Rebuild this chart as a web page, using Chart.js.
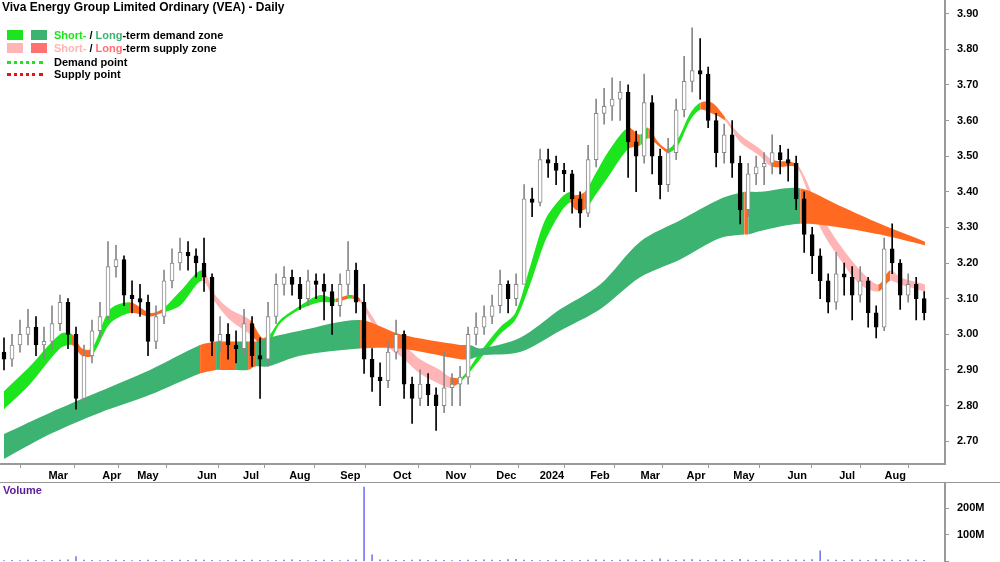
<!DOCTYPE html>
<html>
<head>
<meta charset="utf-8">
<script src="https://cdn.jsdelivr.net/npm/chart.js@4.4.1/dist/chart.umd.min.js"></script>
<style>
  body { margin: 0; background: #fff; font-family: "Liberation Sans", Arial, sans-serif; }
  #wrap { position: relative; width: 1000px; height: 562px; overflow: hidden; }
  #price { position: absolute; left: 0; top: -14px; }
  #vol { position: absolute; left: 0; top: 469px; }
  #sep { position: absolute; left: 0; top: 482px; width: 1000px; height: 1px; background: #999; }
  .txt { position: absolute; font-weight: bold; font-size: 11px; color: #000; white-space: nowrap; }
  .sw { position: absolute; width: 16px; height: 10px; }
  .dot { position: absolute; width: 36px; height: 0; border-top: 3px dotted; }
</style>
</head>
<body>
<div id="wrap">
  <canvas id="price" width="1000" height="496"></canvas>
  <div id="sep"></div>
  <canvas id="vol" width="1000" height="107"></canvas>
  <div class="txt" style="left:2px;top:0px;font-size:12px">Viva Energy Group Limited Ordinary (VEA) - Daily</div>
  <div class="sw" style="left:7px;top:30px;background:#1de51d"></div>
  <div class="sw" style="left:31px;top:30px;background:#3cb371"></div>
  <div class="txt" style="left:54px;top:29px"><span style="color:#1de51d">Short-</span> / <span style="color:#3cb371">Long</span>-term demand zone</div>
  <div class="sw" style="left:7px;top:43px;background:#ffb5b5"></div>
  <div class="sw" style="left:31px;top:43px;background:#ff7070"></div>
  <div class="txt" style="left:54px;top:42px"><span style="color:#ffb5b5">Short-</span> / <span style="color:#ff7070">Long</span>-term supply zone</div>
  <div class="dot" style="left:7px;top:61px;border-color:#1de51d"></div>
  <div class="txt" style="left:54px;top:56px">Demand point</div>
  <div class="dot" style="left:7px;top:73px;border-color:#ee1111"></div>
  <div class="txt" style="left:54px;top:68px">Supply point</div>
  <div class="txt" style="left:3px;top:484px;color:#5a1a9a">Volume</div>
</div>
<script>
// one bar per ~3 trading days
const closes = [2.93,2.97,3.00,3.02,2.97,2.98,3.03,3.09,3.00,2.82, 2.94,3.01,3.05,3.19,3.21,3.11,3.10,3.09,2.98,3.05,
  3.15,3.20,3.23,3.22,3.20,3.16,2.98,3.00,2.97,2.96, 3.03,2.94,2.93,3.05,3.14,3.16,3.14,3.10,3.15,3.14,
  3.12,3.08,3.14,3.18,3.09,2.93,2.88,2.87,2.95,3.00, 2.86,2.82,2.86,2.83,2.80,2.85,2.86,2.88,3.00,3.02,
  3.05,3.08,3.14,3.10,3.14,3.38,3.37,3.49,3.48,3.46, 3.45,3.38,3.34,3.49,3.62,3.64,3.66,3.68,3.54,3.50,
  3.65,3.50,3.42,3.51,3.63,3.71,3.74,3.73,3.60,3.51, 3.56,3.48,3.35,3.45,3.47,3.48,3.51,3.49,3.48,3.38,
  3.28,3.22,3.15,3.09,3.17,3.16,3.11,3.15,3.06,3.02, 3.24,3.20,3.11,3.14,3.10,3.06];
const highs = [2.99,3.00,3.04,3.07,3.05,3.02,3.08,3.11,3.10,3.02, 2.97,3.04,3.09,3.26,3.25,3.22,3.15,3.14,3.11,3.08,
  3.18,3.24,3.27,3.26,3.24,3.27,3.17,3.05,3.03,3.01, 3.07,3.05,2.99,3.09,3.17,3.19,3.18,3.16,3.18,3.17,
  3.17,3.14,3.17,3.26,3.20,3.14,2.96,2.92,2.98,3.04, 3.01,2.88,2.90,2.89,2.85,2.95,2.89,2.91,3.02,3.06,
  3.08,3.11,3.18,3.15,3.17,3.42,3.41,3.52,3.52,3.50, 3.48,3.46,3.40,3.53,3.66,3.69,3.72,3.71,3.70,3.57,
  3.73,3.67,3.52,3.55,3.66,3.78,3.86,3.83,3.75,3.62, 3.59,3.60,3.50,3.48,3.50,3.51,3.56,3.53,3.52,3.50,
  3.40,3.30,3.24,3.17,3.23,3.20,3.19,3.19,3.16,3.08, 3.27,3.31,3.21,3.17,3.16,3.12];
const lows = [2.90,2.91,2.95,2.97,2.94,2.93,2.96,3.01,2.96,2.79, 2.81,2.92,2.99,3.04,3.16,3.08,3.06,3.05,2.94,2.96,
  3.03,3.13,3.18,3.18,3.16,3.12,2.94,2.95,2.93,2.92, 2.94,2.91,2.82,2.91,3.03,3.11,3.11,3.07,3.08,3.10,
  3.04,3.00,3.05,3.11,3.06,2.89,2.84,2.80,2.85,2.93, 2.82,2.75,2.80,2.80,2.73,2.78,2.80,2.80,2.86,2.97,
  3.00,3.03,3.06,3.06,3.08,3.23,3.33,3.36,3.44,3.42, 3.40,3.34,3.30,3.33,3.47,3.59,3.60,3.60,3.44,3.40,
  3.48,3.45,3.38,3.40,3.49,3.61,3.68,3.66,3.58,3.47, 3.48,3.44,3.31,3.33,3.42,3.42,3.45,3.45,3.43,3.35,
  3.23,3.17,3.10,3.06,3.07,3.11,3.04,3.09,3.02,2.99, 3.01,3.17,3.07,3.09,3.04,3.04];
const firstOpen = 2.95;
// volume in millions
const volumes = [3,4,3,5,4,3,4,5,6,18, 5,4,3,4,5,4,3,4,5,4, 3,4,5,4,6,5,4,3,4,5,
  4,5,4,3,4,5,6,4,3,4, 5,4,3,5,6,280,25,6,5,4, 4,5,6,4,5,4,3,4,5,4, 6,5,4,7,8,5,4,3,4,5,
  4,3,4,5,6,5,4,5,6,5, 4,5,10,5,4,6,7,5,4,6, 5,4,8,5,4,5,6,4,5,6, 5,7,40,6,5,4,6,5,4,7, 6,5,4,6,5,4];

// zone knots: bar index, upper, lower, state of segment starting at the knot
const shortIdx = [0,3.25,7,8.5,9.75,11,13.25,15.75,18.25,19.75,22,24.75,26.4,28.25,30.75,32.25,33.25,34.5,37,39.5,41.4,43,43.5,44.5,45.75,47.6,49.5,52,54.5,55.75,57.25,59.5,62,63.9,65.75,67.6,69.5,70.75,71.4,72.6,73.9,75.75,78,79.5,80.5,81.75,83,84.25,85.75,87,88.5,90.1,92,94.5,96,98.9,100.1,102,104.5,107,109.25,110.75,112,115.1];
const shortHi = [2.84,2.91,3.00,3.00,2.96,2.96,3.07,3.09,3.06,3.07,3.12,3.18,3.11,3.07,3.04,2.99,3.00,3.04,3.08,3.11,3.10,3.11,3.11,3.10,3.06,3.00,2.98,2.93,2.90,2.88,2.88,2.95,3.02,3.06,3.19,3.32,3.38,3.40,3.39,3.40,3.45,3.52,3.58,3.56,3.58,3.54,3.52,3.55,3.62,3.65,3.65,3.61,3.56,3.52,3.49,3.48,3.44,3.34,3.25,3.18,3.14,3.18,3.16,3.14];
const shortLo = [2.79,2.86,2.96,2.97,2.94,2.94,3.03,3.06,3.05,3.06,3.08,3.15,3.09,3.04,3.00,2.97,2.98,3.03,3.07,3.09,3.09,3.10,3.10,3.09,3.04,2.97,2.94,2.89,2.86,2.85,2.87,2.93,3.00,3.04,3.14,3.26,3.34,3.37,3.35,3.35,3.39,3.45,3.52,3.53,3.55,3.53,3.51,3.53,3.60,3.63,3.62,3.60,3.54,3.50,3.47,3.47,3.42,3.30,3.21,3.14,3.12,3.15,3.14,3.12];
const shortState = ['d','d','d','o','o','d','d','o','o','d','d','s','s','s','o','o','d','d','d','d','o','d','o','s','s','s','s','s','s','o','d','d','d','d','d','d','d','o','o','d','d','d','o','d','o','o','d','d','d','o','o','s','s','s','o','s','s','s','s','s','o','s','s','s'];

const longIdx = [0,5.75,12,18.25,24.5,26.5,27,29,30.5,31.5,33,37,44.5,49.5,57,58.25,59.5,64.5,69.5,74.5,79.5,84.5,89.5,92.5,93,94.5,99.5,104.5,109.5,115.1];
const longHi = [2.72,2.78,2.84,2.90,2.97,2.98,2.98,2.98,2.98,2.98,2.99,3.01,3.04,3.00,2.97,2.97,2.96,2.99,3.07,3.14,3.26,3.32,3.38,3.40,3.40,3.40,3.41,3.36,3.31,3.26];
const longLo = [2.65,2.72,2.78,2.83,2.89,2.90,2.90,2.90,2.90,2.91,2.91,2.94,2.96,2.96,2.93,2.93,2.94,2.95,3.01,3.07,3.16,3.21,3.27,3.28,3.28,3.29,3.31,3.30,3.28,3.25];
const longState = ['d','d','d','d','o','d','o','d','o','d','d','d','o','o','o','d','d','d','d','d','d','d','d','o','d','d','o','o','o','o'];

const priceTicks = [2.70,2.80,2.90,3.00,3.10,3.20,3.30,3.40,3.50,3.60,3.70,3.80,3.90];
const monthLabels = ['Mar','Apr','May','Jun','Jul','Aug','Sep','Oct','Nov','Dec','2024','Feb','Mar','Apr','May','Jun','Jul','Aug'];
const monthIdx = [5.4,12.1,16.6,24,29.5,35.6,41.9,48.4,55.1,61.4,67.1,73.1,79.4,85.1,91.1,97.75,104,110];
const volTicks = [0,100,200];

const shortColors = {d: '#1de51d', s: '#ffb5b5', o: '#ff6a20'};
const longColors = {d: '#3cb371', o: '#ff6a20'};

const opens = closes.map((c, i) => i === 0 ? firstOpen : closes[i - 1]);
const wickData = closes.map((c, i) => ({x: i, y: [lows[i], highs[i]]}));
const bodyData = closes.map((c, i) => ({x: i, y: [opens[i], c]}));
const isUp = i => closes[i] >= opens[i];

function zone(idx, hi, lo, state, colors) {
  return [
    {
      type: 'line', order: 10,
      data: idx.map((x, i) => ({x, y: hi[i]})),
      borderWidth: 0, pointRadius: 0, fill: '+1', tension: 0.3,
      segment: {backgroundColor: ctx => colors[state[ctx.p0DataIndex]]}
    },
    {
      type: 'line', order: 10,
      data: idx.map((x, i) => ({x, y: lo[i]})),
      borderWidth: 0, pointRadius: 0, fill: false, tension: 0.3
    }
  ];
}

const xMin = -0.5, xMax = 117.6;
const tickFont = {family: 'Liberation Sans', size: 11, weight: 'bold'};

new Chart(document.getElementById('price'), {
  type: 'bar',
  data: {
    datasets: [
      ...zone(longIdx, longHi, longLo, longState, longColors),
      ...zone(shortIdx, shortHi, shortLo, shortState, shortColors),
      {
        type: 'bar', order: 2, grouped: false, data: wickData,
        barThickness: 1,
        backgroundColor: wickData.map((d, i) => isUp(i) ? '#888' : '#000')
      },
      {
        type: 'bar', order: 1, grouped: false, data: bodyData,
        barThickness: 4, borderWidth: 1, borderSkipped: false, minBarLength: 1,
        backgroundColor: bodyData.map((d, i) => isUp(i) ? '#fff' : '#000'),
        borderColor: bodyData.map((d, i) => isUp(i) ? '#888' : '#000')
      }
    ]
  },
  options: {
    responsive: false, animation: false,
    layout: {padding: 0},
    plugins: {legend: {display: false}, tooltip: {enabled: false}},
    scales: {
      x: {
        type: 'linear', min: xMin, max: xMax, offset: false,
        afterBuildTicks: s => { s.ticks = monthIdx.map(v => ({value: v})); },
        afterFit: s => { s.height = 18; },
        ticks: {
          autoSkip: false, maxRotation: 0, labelOffset: 11, padding: 1,
          color: '#000', font: tickFont,
          callback: (v, i) => monthLabels[i]
        },
        grid: {drawOnChartArea: false, tickLength: 4, color: '#999'},
        border: {color: '#999', width: 2}
      },
      y: {
        position: 'right', min: 2.636, max: 3.9365,
        afterBuildTicks: s => { s.ticks = priceTicks.map(v => ({value: v})); },
        afterFit: s => { s.width = 55; },
        ticks: {color: '#000', padding: 8, font: tickFont, callback: v => v.toFixed(2)},
        grid: {drawOnChartArea: false, tickLength: 4, color: '#999'},
        border: {color: '#999', width: 2}
      }
    }
  }
});

new Chart(document.getElementById('vol'), {
  type: 'bar',
  data: {
    datasets: [{
      data: volumes.map((v, i) => ({x: i, y: v})),
      barThickness: 1, backgroundColor: '#7b7bf0'
    }]
  },
  options: {
    responsive: false, animation: false,
    layout: {padding: 0},
    plugins: {legend: {display: false}, tooltip: {enabled: false}},
    scales: {
      x: {type: 'linear', min: xMin, max: xMax, offset: false, display: false},
      y: {
        position: 'right', min: 0, max: 293,
        afterBuildTicks: s => { s.ticks = volTicks.map(v => ({value: v})); },
        afterFit: s => { s.width = 55; },
        ticks: {color: '#000', padding: 8, font: tickFont, callback: v => v === 0 ? '' : v + 'M'},
        grid: {drawOnChartArea: false, tickLength: 4, color: '#999'},
        border: {color: '#999', width: 2}
      }
    }
  }
});
</script>
</body>
</html>
